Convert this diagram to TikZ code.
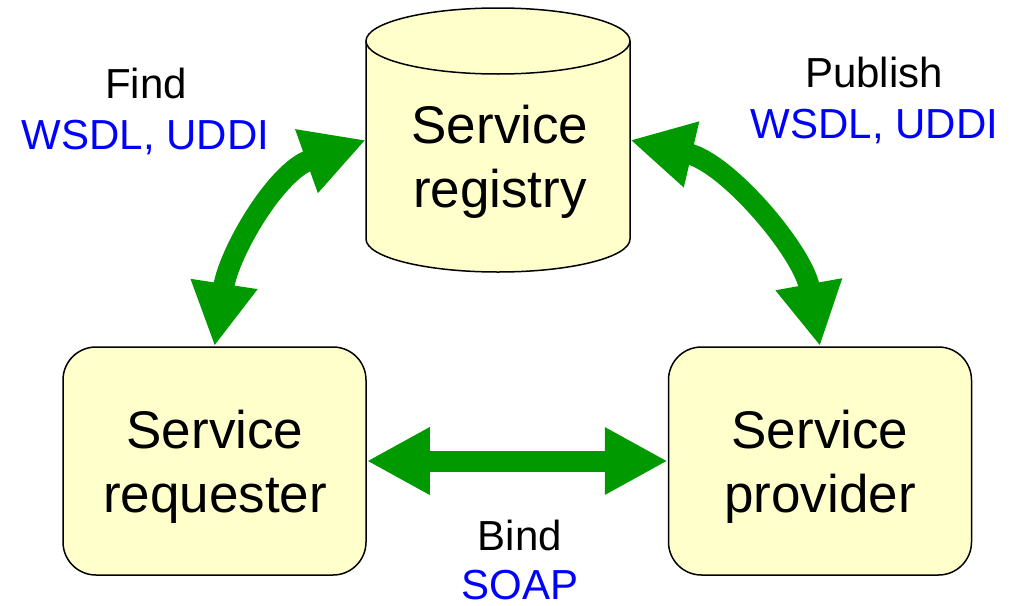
\documentclass[tikz,border=0pt]{standalone}
\usepackage{fontspec}
\setmainfont{Liberation Sans}
\usetikzlibrary{arrows.meta}
\definecolor{boxfill}{RGB}{255,255,204}
\definecolor{arrowgreen}{RGB}{0,153,0}
\definecolor{protoblue}{RGB}{0,0,255}
\begin{document}
\begin{tikzpicture}[x=1pt,y=-1pt,
  outline/.style={draw=black, line width=1.5pt, fill=boxfill},
  roundbox/.style={outline, rounded corners=33pt, minimum width=303pt, minimum height=228pt, inner sep=0pt},
  boxtext/.style={font=\fontsize{53}{64}\selectfont, anchor=base, inner sep=0pt},
  lbl/.style={font=\fontsize{42}{51}\selectfont, anchor=base, inner sep=0pt},
  proto/.style={lbl, text=protoblue},
  bigarrow/.style={draw=arrowgreen, line width=21pt,
    {Triangle[length=63pt,width=63pt]}-{Triangle[length=63pt,width=63pt]}, arrowgreen}
]
\useasboundingbox (0,0) rectangle (1011,605);
% registry cylinder
\fill[boxfill] (366,41) -- (366,239) arc[start angle=180, end angle=360, x radius=132pt, y radius=33pt] -- (630,41) -- cycle;
\draw[line width=1.5pt] (366,41) -- (366,239) arc[start angle=180, end angle=360, x radius=132pt, y radius=33pt] -- (630,41);
\draw[outline] (498,41) ellipse [x radius=132pt, y radius=33pt];
\node[minimum width=264pt, minimum height=264pt, inner sep=0pt] (reg) at (498,140) {};
\node[boxtext] (reg1) at (500,143) {Service};
\node[boxtext] (reg2) at (500,207) {registry};
% requester and provider
\node[roundbox] (req) at (214.5,461) {};
\node[boxtext] (req1) at (215,448) {Service};
\node[boxtext] (req2) at (215,512) {requester};
\node[roundbox] (prov) at (820,461) {};
\node[boxtext] (prov1) at (820,448) {Service};
\node[boxtext] (prov2) at (820,512) {provider};
% arrows
\draw[bigarrow] (req.north) .. controls (229,252) and (276,172) .. (reg.west);
\draw[bigarrow] (reg.east) .. controls (728,163) and (803,252) .. (prov.north);
\draw[bigarrow] (req.east) -- (prov.west);
% labels
\node[lbl] (find) at (146,98) {Find};
\node[proto] (findp) at (145.5,149) {WSDL, UDDI};
\node[lbl] (pub) at (874,87) {Publish};
\node[proto] (pubp) at (874.5,138) {WSDL, UDDI};
\node[lbl] (bind) at (520,550) {Bind};
\node[proto] (bindp) at (520,599) {SOAP};
\end{tikzpicture}
\end{document}
